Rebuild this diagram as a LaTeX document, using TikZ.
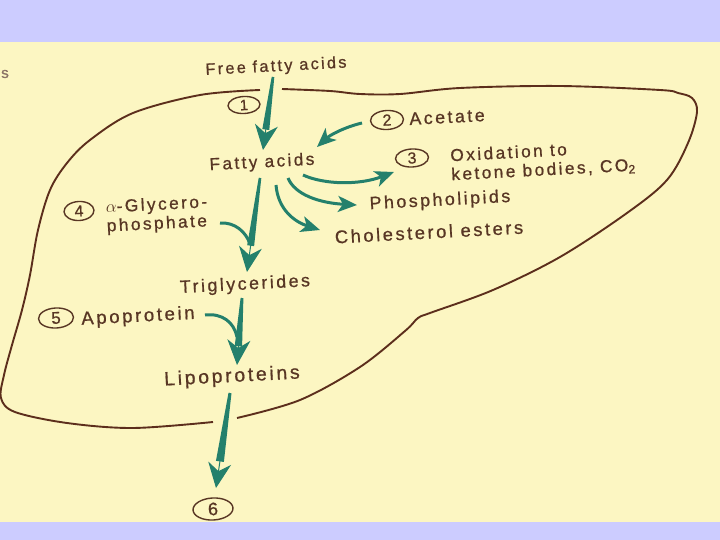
\documentclass[tikz,border=0pt]{standalone}
\usepackage{fontspec}
\setmainfont{Liberation Sans}[LetterSpace=14,FakeBold=0.8]
\usetikzlibrary{arrows.meta,calc,shapes.geometric}
\definecolor{cream}{RGB}{252,246,194}
\definecolor{lav}{RGB}{204,204,255}
\definecolor{ink}{RGB}{88,54,36}
\definecolor{liv}{RGB}{92,46,28}
\definecolor{tl}{RGB}{36,128,108}
\newcommand\fs[1]{\fontsize{#1}{19}\selectfont}
\newcommand\tarrow[4]{%
  \coordinate (tA) at (#1);
  \coordinate (tB) at (#2);
  \coordinate (tM) at ($(tA)!0.72!(tB)$);
  \fill[tl] ($(tA)!#3!90:(tB)$) -- ($(tA)!#3!-90:(tB)$) -- ($(tM)!#4!-90:(tB)$) -- ($(tM)!#4!90:(tB)$) -- cycle;
  \draw[mainhead] (tA) -- (tB);}
\tikzset{
  lbl/.style={text=ink, inner sep=0pt, rotate=3, font={\fs{17.8}}},
  num/.style={ellipse, draw=ink, line width=1.4pt, inner sep=0pt, minimum width=33pt, minimum height=19pt, text=ink, rotate=3, font={\fs{16}}},
  mainhead/.style={draw=tl, line width=1pt, -{Stealth[length=25pt,width=23pt,inset=8pt]}},
  curv/.style={draw=tl, line width=3pt, -{Stealth[length=19pt,width=16pt,inset=5pt]}},
  joinline/.style={draw=tl, line width=3pt},
  liver/.style={draw=liv, line width=1.9pt}
}
\begin{document}
\begin{tikzpicture}[x=1pt,y=-1pt]
\useasboundingbox (0,0) rectangle (720,540);
\fill[cream] (0,0) rectangle (720,540);
\fill[lav] (0,0) rectangle (720,42);
\fill[lav] (0,522) rectangle (720,540);

% liver outline
\draw[liver] plot[smooth, tension=0.55] coordinates {(260,90) (200,95) (133,113) (90,140) (67,163) (50,190) (38,230) (30,275) (22,310) (12,345) (4,375) (1,398) (15,412) (67,423) (133,428) (213,422)};
\draw[liver] plot[smooth, tension=0.55] coordinates {(237,418) (300,400) (360,367) (405,331) (418,318) (430,313) (493,290) (560,257) (627,213) (667,180) (688,143) (697,112) (692,98) (678,93) (660,90) (560,86) (460,88) (400,94) (360,94) (330,91) (282,89)};

% labels
\node[lbl, text=ink!70, font={\fs{15}}] (st) at (5,74) {s};
\node[lbl, font={\fs{16.3}}] (ffa) at (276,67) {Free fatty acids};
\node[lbl, font={\fs{17.2}}] (fa) at (262,163) {Fatty acids};
\node[lbl] (acet) at (447,117) {Acetate};
\node[lbl, align=left, font={\fs{17.3}}] (oxid) at (543,161) {Oxidation to\\ketone bodies, CO\textsubscript{2}};
\node[lbl] (phos) at (440,201) {Phospholipids};
\node[lbl, font={\fs{18.3}}] (chol) at (429,232) {Cholesterol esters};
\node[lbl, align=left, font={\fs{17.3}}] (glyc) at (157,215) {$\alpha$-Glycero-\\phosphate};
\node[lbl] (tg) at (245,285) {Triglycerides};
\node[lbl, font={\fs{18.6}}] (apo) at (138,317) {Apoprotein};
\node[lbl, font={\fs{19.4}}] (lipo) at (232,377) {Lipoproteins};

\node[num, minimum width=32pt, minimum height=17pt, font={\fs{15}}] (n1) at (244,105) {1};
\node[num] (n2) at (387,120) {2};
\node[num, minimum height=18pt] (n3) at (412,158) {3};
\node[num, minimum width=30pt] (n4) at (79,211) {4};
\node[num, minimum width=35pt, minimum height=20pt, font={\fs{17}}] (n5) at (56,318) {5};
\node[num, minimum width=40pt, minimum height=22pt, font={\fs{18}}] (n6) at (213,509) {6};

% straight arrows
\tarrow{[shift={(-3,10)}]ffa.center}{[shift={(1,-13)}]fa.center}{1.3pt}{3.5pt}
\tarrow{[shift={(-2,15)}]fa.center}{[shift={(2,-13)}]tg.center}{1.3pt}{3.5pt}
\tarrow{[shift={(-3,13)}]tg.center}{[shift={(5,-12)}]lipo.center}{1.4pt}{3.7pt}
\tarrow{[shift={(-2,16)}]lipo.center}{[shift={(3,-21)}]n6.center}{1.5pt}{4pt}

% curved arrows
\draw[curv] ([shift={(-25,3)}]n2.center) .. controls +(-17,4) and +(13,-12) .. ([shift={(55,-16)}]fa.center);
\draw[curv] ([shift={(41,12)}]fa.center) .. controls +(22,10) and +(-34,13) .. ([shift={(-18,14)}]n3.center);
\draw[curv] ([shift={(26,15)}]fa.center) .. controls +(7,17) and +(-37,-2) .. ([shift={(-83,4)}]phos.center);
\draw[curv] ([shift={(14,22)}]fa.center) .. controls +(2,25) and +(-25,-8) .. ([shift={(-109,-2)}]chol.center);

% joining curves
\draw[joinline] ([shift={(63,8)}]glyc.center) .. controls +(15,-1) and +(-4,-12) .. ([shift={(5,-41)}]tg.center);
\draw[joinline] ([shift={(67,-2)}]apo.center) .. controls +(17,-2) and +(-3,-15) .. ([shift={(5,-40)}]lipo.center);
\end{tikzpicture}
\end{document}
